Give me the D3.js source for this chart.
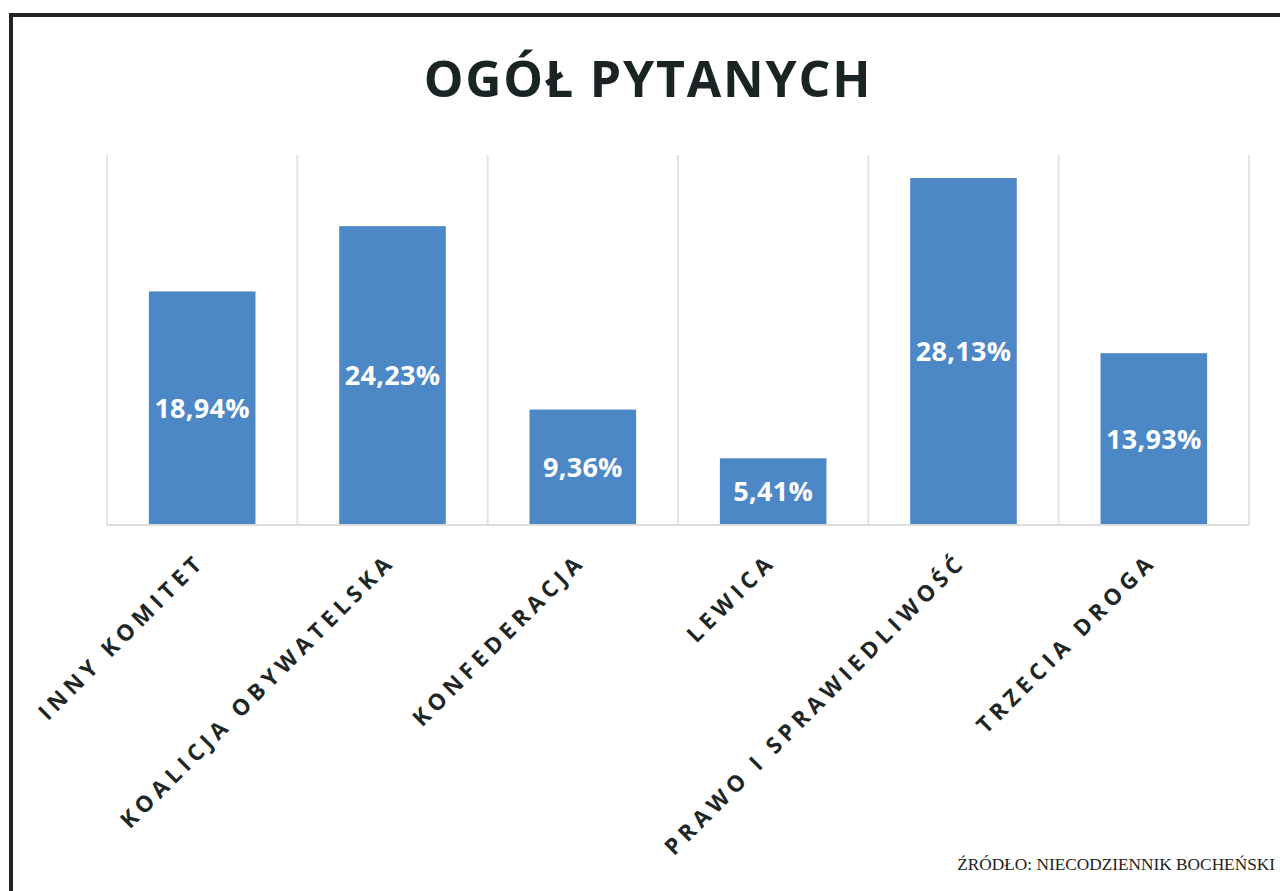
<!DOCTYPE html>
<html><head><meta charset="utf-8">
<script src="https://cdn.jsdelivr.net/npm/d3@7"></script>
<style>html,body{margin:0;padding:0;background:#fff;}svg{display:block;}</style>
</head><body>
<script>
const categories = ["INNY KOMITET","KOALICJA OBYWATELSKA","KONFEDERACJA","LEWICA","PRAWO I SPRAWIEDLIWOŚĆ","TRZECIA DROGA"];
const values = [18.94, 24.23, 9.36, 5.41, 28.13, 13.93];
const valueLabels = ["18,94%","24,23%","9,36%","5,41%","28,13%","13,93%"];
const title = "OGÓŁ PYTANYCH";
const source = "ŹRÓDŁO: NIECODZIENNIK BOCHEŃSKI";

const W = 1280, H = 891;
const svg = d3.select("body").append("svg").attr("width", W).attr("height", H);
svg.append("rect").attr("width", W).attr("height", H).attr("fill", "#fff");

// frame (left and top edges visible)
svg.append("path").attr("d", `M11,${H} L11,15 L${W},15`).attr("fill","none").attr("stroke","#232323").attr("stroke-width",4);

const plotL = 107, plotR = 1249, plotT = 155, plotB = 525;
const x = d3.scaleBand().domain(categories).range([plotL, plotR]).paddingInner(0).paddingOuter(0);
const y = d3.scaleLinear().domain([0, 30]).range([plotB, plotT]);

// vertical gridlines at category boundaries
const bounds = categories.map(c => x(c)).concat([plotR]);
svg.append("g").selectAll("line").data(bounds).join("line")
  .attr("x1", d => d).attr("x2", d => d).attr("y1", plotT).attr("y2", plotB)
  .attr("stroke", "#e3e3e3").attr("stroke-width", 2);

// bars
const bw = x.bandwidth() * 0.56;
svg.append("g").selectAll("rect").data(values).join("rect")
  .attr("x", (d,i) => x(categories[i]) + x.bandwidth()/2 - bw/2)
  .attr("width", bw)
  .attr("y", d => y(d))
  .attr("height", d => y(0) - y(d))
  .attr("fill", "#4c87c6");

// baseline
svg.append("line").attr("x1", plotL).attr("x2", plotR).attr("y1", plotB).attr("y2", plotB)
  .attr("stroke", "#dcdcdc").attr("stroke-width", 2);

// value labels
svg.append("g").selectAll("text").data(values).join("text")
  .attr("x", (d,i) => x(categories[i]) + x.bandwidth()/2)
  .attr("y", d => (y(d) + y(0))/2)
  .attr("dy", "0.36em")
  .attr("text-anchor", "middle")
  .attr("font-family", "'Open Sans', sans-serif")
  .attr("font-weight", "bold")
  .attr("font-size", 27)
  .attr("letter-spacing", "0.3px")
  .attr("fill", "#fff")
  .text((d,i) => valueLabels[i]);

// category labels
svg.append("g").selectAll("text").data(categories).join("text")
  .attr("transform", d => `translate(${x(d) + x.bandwidth()/2 + 4},${plotB + 38}) rotate(-45)`)
  .attr("text-anchor", "end")
  .attr("font-family", "'Open Sans', sans-serif")
  .attr("font-weight", "bold")
  .attr("font-size", 22.5)
  .attr("letter-spacing", "5px")
  .attr("fill", "#1e2626")
  .text(d => d);

// title
svg.append("text").attr("x", 648).attr("y", 97)
  .attr("text-anchor", "middle")
  .attr("font-family", "'Open Sans', sans-serif")
  .attr("font-weight", "bold")
  .attr("font-size", 50)
  .attr("letter-spacing", "1.8px")
  .attr("fill", "#1a2424")
  .text(title);

// source
svg.append("text").attr("x", 1275).attr("y", 870)
  .attr("text-anchor", "end")
  .attr("font-family", "'Liberation Serif', serif")
  .attr("font-size", 17.3)
  .attr("fill", "#222")
  .text(source);
</script>
</body></html>
